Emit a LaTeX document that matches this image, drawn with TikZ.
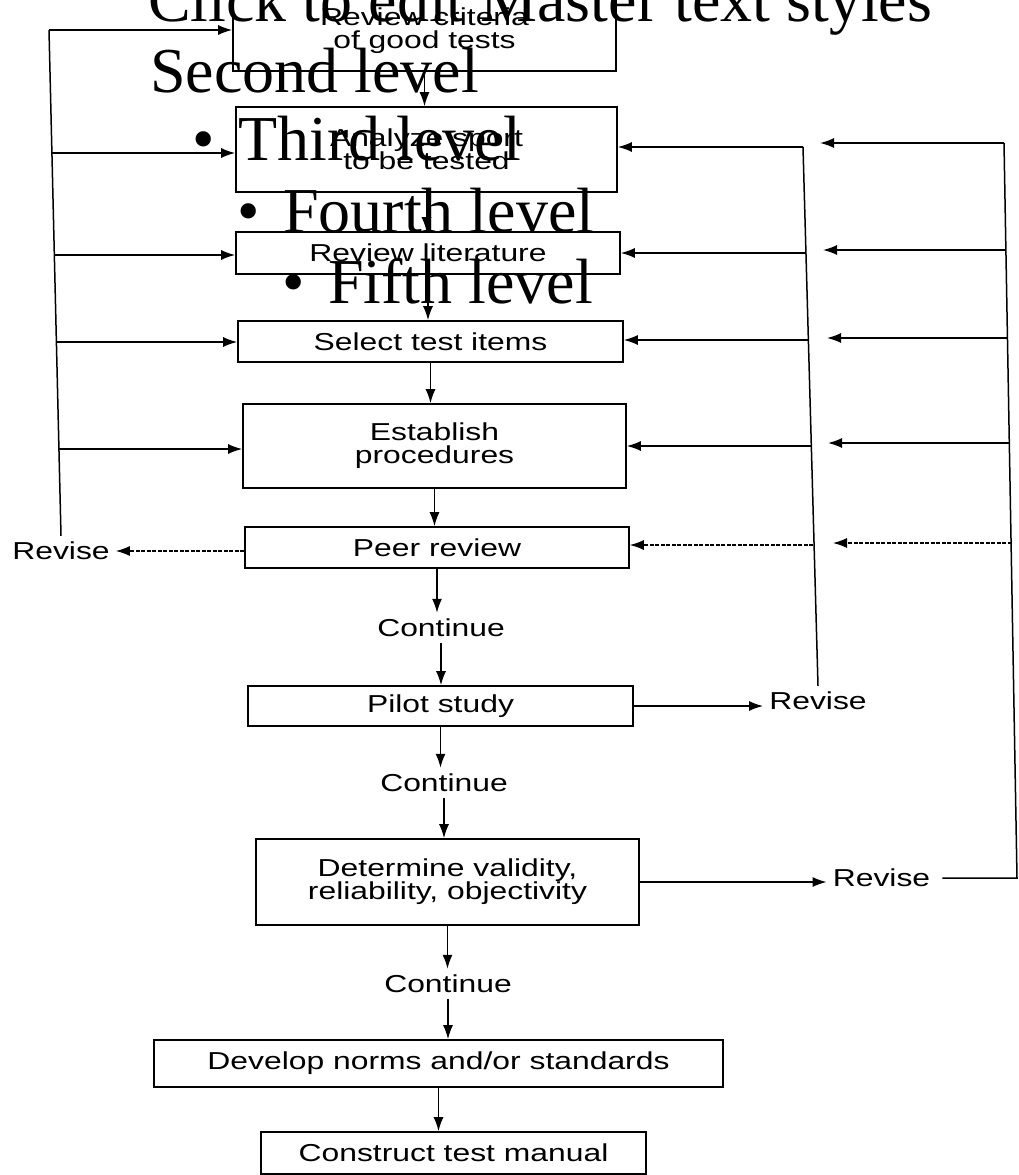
\documentclass[tikz,border=0pt]{standalone}
\usepackage{fontspec}
\setmainfont{Liberation Serif}
\newfontfamily\boxfont[FakeStretch=1.3]{Liberation Sans}
\usetikzlibrary{arrows.meta,calc}
\tikzset{
  fbox/.style={draw, line width=1.6pt, rectangle, inner sep=0pt, align=center,
    font=\boxfont\fontsize{24.5}{23}\selectfont},
  lbl/.style={inner sep=6pt, font=\boxfont\fontsize{24.5}{23}\selectfont},
  arr/.style={line width=1.5pt, -{Latex[length=14pt,width=10pt]}},
  darr/.style={line width=1.2pt, dash pattern=on 4pt off 1.5pt, -{Latex[length=14pt,width=10pt]}},
  ln/.style={line width=1.5pt},
  pp/.style={font=\fontsize{64}{70}\selectfont, anchor=base west, inner sep=0pt}
}
\begin{document}
\begin{tikzpicture}[x=1pt,y=-1pt]
\path[use as bounding box, fill=white] (0,0) rectangle (1019,1175);

% boxes
\node[fbox, minimum width=383pt, minimum height=80pt] (crit) at (424.5,31) {Review criteria\\of good tests};
\node[fbox, minimum width=381pt, minimum height=85pt] (sport) at (426.5,149.5) {Analyze sport\\to be tested};
\node[fbox, minimum width=384pt, minimum height=42pt] (lit) at (428,253) {Review literature};
\node[fbox, minimum width=385pt, minimum height=41pt] (sel) at (430.5,341.5) {Select test items};
\node[fbox, minimum width=383pt, minimum height=84pt] (est) at (434.5,446) {Establish\\procedures};
\node[fbox, minimum width=384pt, minimum height=41pt] (peer) at (437,547.5) {Peer review};
\node[fbox, minimum width=385pt, minimum height=40pt] (pilot) at (440.5,706) {Pilot study};
\node[fbox, minimum width=383pt, minimum height=86pt] (valid) at (447.5,882) {Determine validity,\\reliability, objectivity};
\node[fbox, minimum width=569pt, minimum height=47pt] (norms) at (438.5,1063.5) {Develop norms and/or standards};
\node[fbox, minimum width=385pt, minimum height=42pt] (manual) at (453.5,1153) {Construct test manual};

% labels
\node[lbl] (reviseL) at (61,551) {Revise};
\node[lbl] (cont1) at (441,628) {Continue};
\node[lbl] (reviseP) at (818,701) {Revise};
\node[lbl] (cont2) at (444,783) {Continue};
\node[lbl] (reviseV) at (881.5,878) {Revise};
\node[lbl] (cont3) at (448,984) {Continue};

% main vertical flow
\draw[arr] (crit.south) -- (crit.south |- sport.north);
\draw[arr] (sport.south) -- (sport.south |- lit.north);
\draw[arr] (lit.south) -- (lit.south |- sel.north);
\draw[arr] (sel.south) -- (sel.south |- est.north);
\draw[arr] (est.south) -- (est.south |- peer.north);
\draw[arr] (peer.south) -- (peer.south |- cont1.north);
\draw[arr] (cont1.south) -- (cont1.south |- pilot.north);
\draw[arr] (pilot.south) -- (pilot.south |- cont2.north);
\draw[arr] (cont2.south) -- (cont2.south |- valid.north);
\draw[arr] (valid.south) -- (valid.south |- cont3.north);
\draw[arr] (cont3.south) -- (cont3.south |- norms.north);
\draw[arr] (norms.south) -- (norms.south |- manual.north);

% left loop (peer review)
\coordinate (Ltop) at (49,30);
\coordinate (L2) at (51.7,153);
\coordinate (L3) at (53.9,255);
\coordinate (L4) at (55.8,342);
\coordinate (L5) at (58.1,449);
\draw[darr] (reviseL.east -| peer.west) -- (reviseL.east);
\draw[ln] (reviseL.north) -- (Ltop);
\draw[arr] (Ltop) -- (Ltop -| crit.west);
\draw[arr] (L2) -- (L2 -| sport.west);
\draw[arr] (L3) -- (L3 -| lit.west);
\draw[arr] (L4) -- (L4 -| sel.west);
\draw[arr] (L5) -- (L5 -| est.west);

% inner right loop (pilot study)
\coordinate (R1) at (803,147);
\coordinate (R2) at (805.7,253);
\coordinate (R3) at (808,340);
\coordinate (R4) at (810.7,446);
\coordinate (R5) at (813.3,545);
\draw[arr] (pilot.east) -- (pilot.east -| reviseP.west);
\draw[ln] (reviseP.north) -- (R1);
\draw[arr] (R1) -- (R1 -| sport.east);
\draw[arr] (R2) -- (R2 -| lit.east);
\draw[arr] (R3) -- (R3 -| sel.east);
\draw[arr] (R4) -- (R4 -| est.east);
\draw[darr] (R5) -- (R5 -| peer.east);

% outer right loop (validity)
\coordinate (O0) at (1017,879);
\coordinate (O1) at (1004,143);
\coordinate (O2) at (1006,250);
\coordinate (O3) at (1007.7,338);
\coordinate (O4) at (1009.7,443);
\coordinate (O5) at (1011.6,543);
\coordinate (E1) at (820,143);
\coordinate (E2) at (823,250);
\coordinate (E3) at (827,338);
\coordinate (E4) at (828,443);
\coordinate (E5) at (833,543);
\draw[arr] (valid.east) -- (valid.east -| reviseV.west);
\draw[ln] ($(reviseV.east)+(6,0)$) -- (reviseV.east -| O0) -- (O1);
\draw[arr] (O1) -- (E1);
\draw[arr] (O2) -- (E2);
\draw[arr] (O3) -- (E3);
\draw[arr] (O4) -- (E4);
\draw[darr] (O5) -- (E5);

% overlaid slide placeholder text
\node[pp] (t1) at (148,21) {Click to edit Master text styles};
\node[pp] (t2) at (150,92) {Second level};
\node[pp] (b3) at (192,160) {•};
\node[pp] (t3) at (238,160) {Third level};
\node[pp] (b4) at (237,232) {•};
\node[pp] (t4) at (283,232) {Fourth level};
\node[pp] (b5) at (282,303) {•};
\node[pp] (t5) at (328,303) {Fifth level};
\end{tikzpicture}
\end{document}
